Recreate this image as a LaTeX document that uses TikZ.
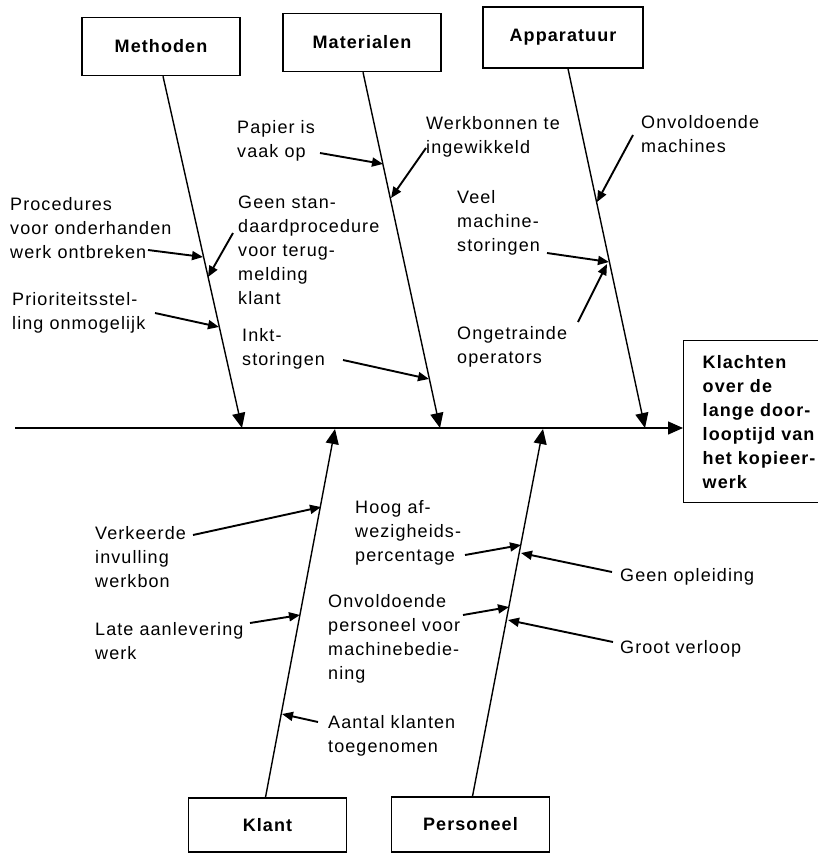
\documentclass[tikz,border=0pt]{standalone}
\usepackage{fontspec}
\usetikzlibrary{arrows.meta}
\newfontfamily\diagfont{Liberation Sans}[LetterSpace=6]

\begin{document}
\begin{tikzpicture}[x=1pt, y=-1pt,
    every node/.style={font=\diagfont\fontsize{18}{24}\selectfont},
    cat/.style={draw, line width=1.4pt, minimum width=158pt, minimum height=58pt,
        font=\diagfont\fontsize{18}{24}\selectfont\bfseries},
    cause/.style={anchor=west, inner sep=0pt, align=left},
    bone/.style={line width=1.4pt, -{Triangle[length=15pt, width=13pt]}},
    sub/.style={line width=1.9pt, -{Triangle[length=11pt, width=9pt]}}]
    \useasboundingbox (0,0) rectangle (818,854);
    \clip (0,0) rectangle (818,854);

    % Categories
    \node[cat] (methoden) at (161,46.5) {Methoden};
    \node[cat] (materialen) at (362,42.5) {Materialen};
    \node[cat, minimum width=160pt, minimum height=61pt] (apparatuur) at (563,37.5) {Apparatuur};
    \node[cat, minimum height=54pt] (klant) at (267.5,825) {Klant};
    \node[cat, minimum height=55pt] (personeel) at (470.5,824.5) {Personeel};

    % Effect
    \node[draw, line width=1.4pt, anchor=north west, inner xsep=19pt, text width=122pt,
        align=left, minimum height=162pt, font=\diagfont\fontsize{18}{24}\selectfont\bfseries]
        (effect) at (683,340) {Klachten\\over de\\lange door-\\looptijd van\\het kopieer-\\werk};

    % Spine and bones
    \coordinate (spine) at (15,428);
    \coordinate (m-tip) at (242,428);
    \coordinate (mat-tip) at (440,428);
    \coordinate (a-tip) at (645,428);
    \coordinate (k-tip) at (335,429);
    \coordinate (p-tip) at (543,429);
    \draw[bone] (spine) -- (spine -| effect.west);
    \draw[bone] ([xshift=2pt]methoden.south) -- (m-tip);
    \draw[bone] ([xshift=1pt]materialen.south) -- (mat-tip);
    \draw[bone] ([xshift=5pt]apparatuur.south) -- (a-tip);
    \draw[bone] ([xshift=-2pt]klant.north) -- (k-tip);
    \draw[bone] ([xshift=2pt]personeel.north) -- (p-tip);

    % Causes
    \node[cause] (proc) at (10,228) {Procedures\\voor onderhanden\\werk ontbreken};
    \node[cause] (prio) at (12,312.5) {Prioriteitsstel-\\ling onmogelijk};
    \node[cause] (geen) at (238,250) {Geen stan-\\daardprocedure\\voor terug-\\melding\\klant};
    \node[cause] (papier) at (237,140.5) {Papier is\\vaak op};
    \node[cause] (inkt) at (242,349) {Inkt-\\storingen};
    \node[cause] (werkb) at (426,137) {Werkbonnen te\\ingewikkeld};
    \node[cause] (onvm) at (641,134) {Onvoldoende\\machines};
    \node[cause] (veel) at (457,223) {Veel\\machine-\\storingen};
    \node[cause] (onget) at (457,347) {Ongetrainde\\operators};
    \node[cause] (verk) at (95,557.5) {Verkeerde\\invulling\\werkbon};
    \node[cause] (late) at (95,641.5) {Late aanlevering\\werk};
    \node[cause] (hoog) at (355,533) {Hoog af-\\wezigheids-\\percentage};
    \node[cause] (onvp) at (328,639) {Onvoldoende\\personeel voor\\machinebedie-\\ning};
    \node[cause] (aantal) at (328,735.5) {Aantal klanten\\toegenomen};
    \node[cause] (opl) at (620,577) {Geen opleiding};
    \node[cause] (verl) at (620,649) {Groot verloop};

    % Arrow ends
    \coordinate (proc-s) at (148,250);   \coordinate (proc-e) at (203,257);
    \coordinate (geen-s) at (233,233);   \coordinate (geen-e) at (208,277);
    \coordinate (prio-s) at (155,313);   \coordinate (prio-e) at (219,327);
    \coordinate (papier-s) at (320,153); \coordinate (papier-e) at (383,164);
    \coordinate (werkb-s) at (426,148);  \coordinate (werkb-e) at (391,198);
    \coordinate (inkt-s) at (343,360);   \coordinate (inkt-e) at (429,379);
    \coordinate (onvm-s) at (633,135);   \coordinate (onvm-e) at (597,202);
    \coordinate (veel-s) at (547,253);   \coordinate (veel-e) at (609,262);
    \coordinate (onget-s) at (578,322);  \coordinate (onget-e) at (607,264);
    \coordinate (verk-s) at (193,535);   \coordinate (verk-e) at (321,507);
    \coordinate (late-s) at (250,623);   \coordinate (late-e) at (300,615);
    \coordinate (aantal-s) at (318,722); \coordinate (aantal-e) at (282,714);
    \coordinate (hoog-s) at (465,555);   \coordinate (hoog-e) at (521,545);
    \coordinate (opl-s) at (612,572);    \coordinate (opl-e) at (521,553);
    \coordinate (onvp-s) at (463,615);   \coordinate (onvp-e) at (509,607);
    \coordinate (verl-s) at (613,642);   \coordinate (verl-e) at (508,620);

    % Arrows
    \foreach \c in {proc,geen,prio,papier,werkb,inkt,onvm,veel,onget,
                    verk,late,aantal,hoog,opl,onvp,verl}
        \draw[sub] (\c-s) -- (\c-e);
\end{tikzpicture}
\end{document}
